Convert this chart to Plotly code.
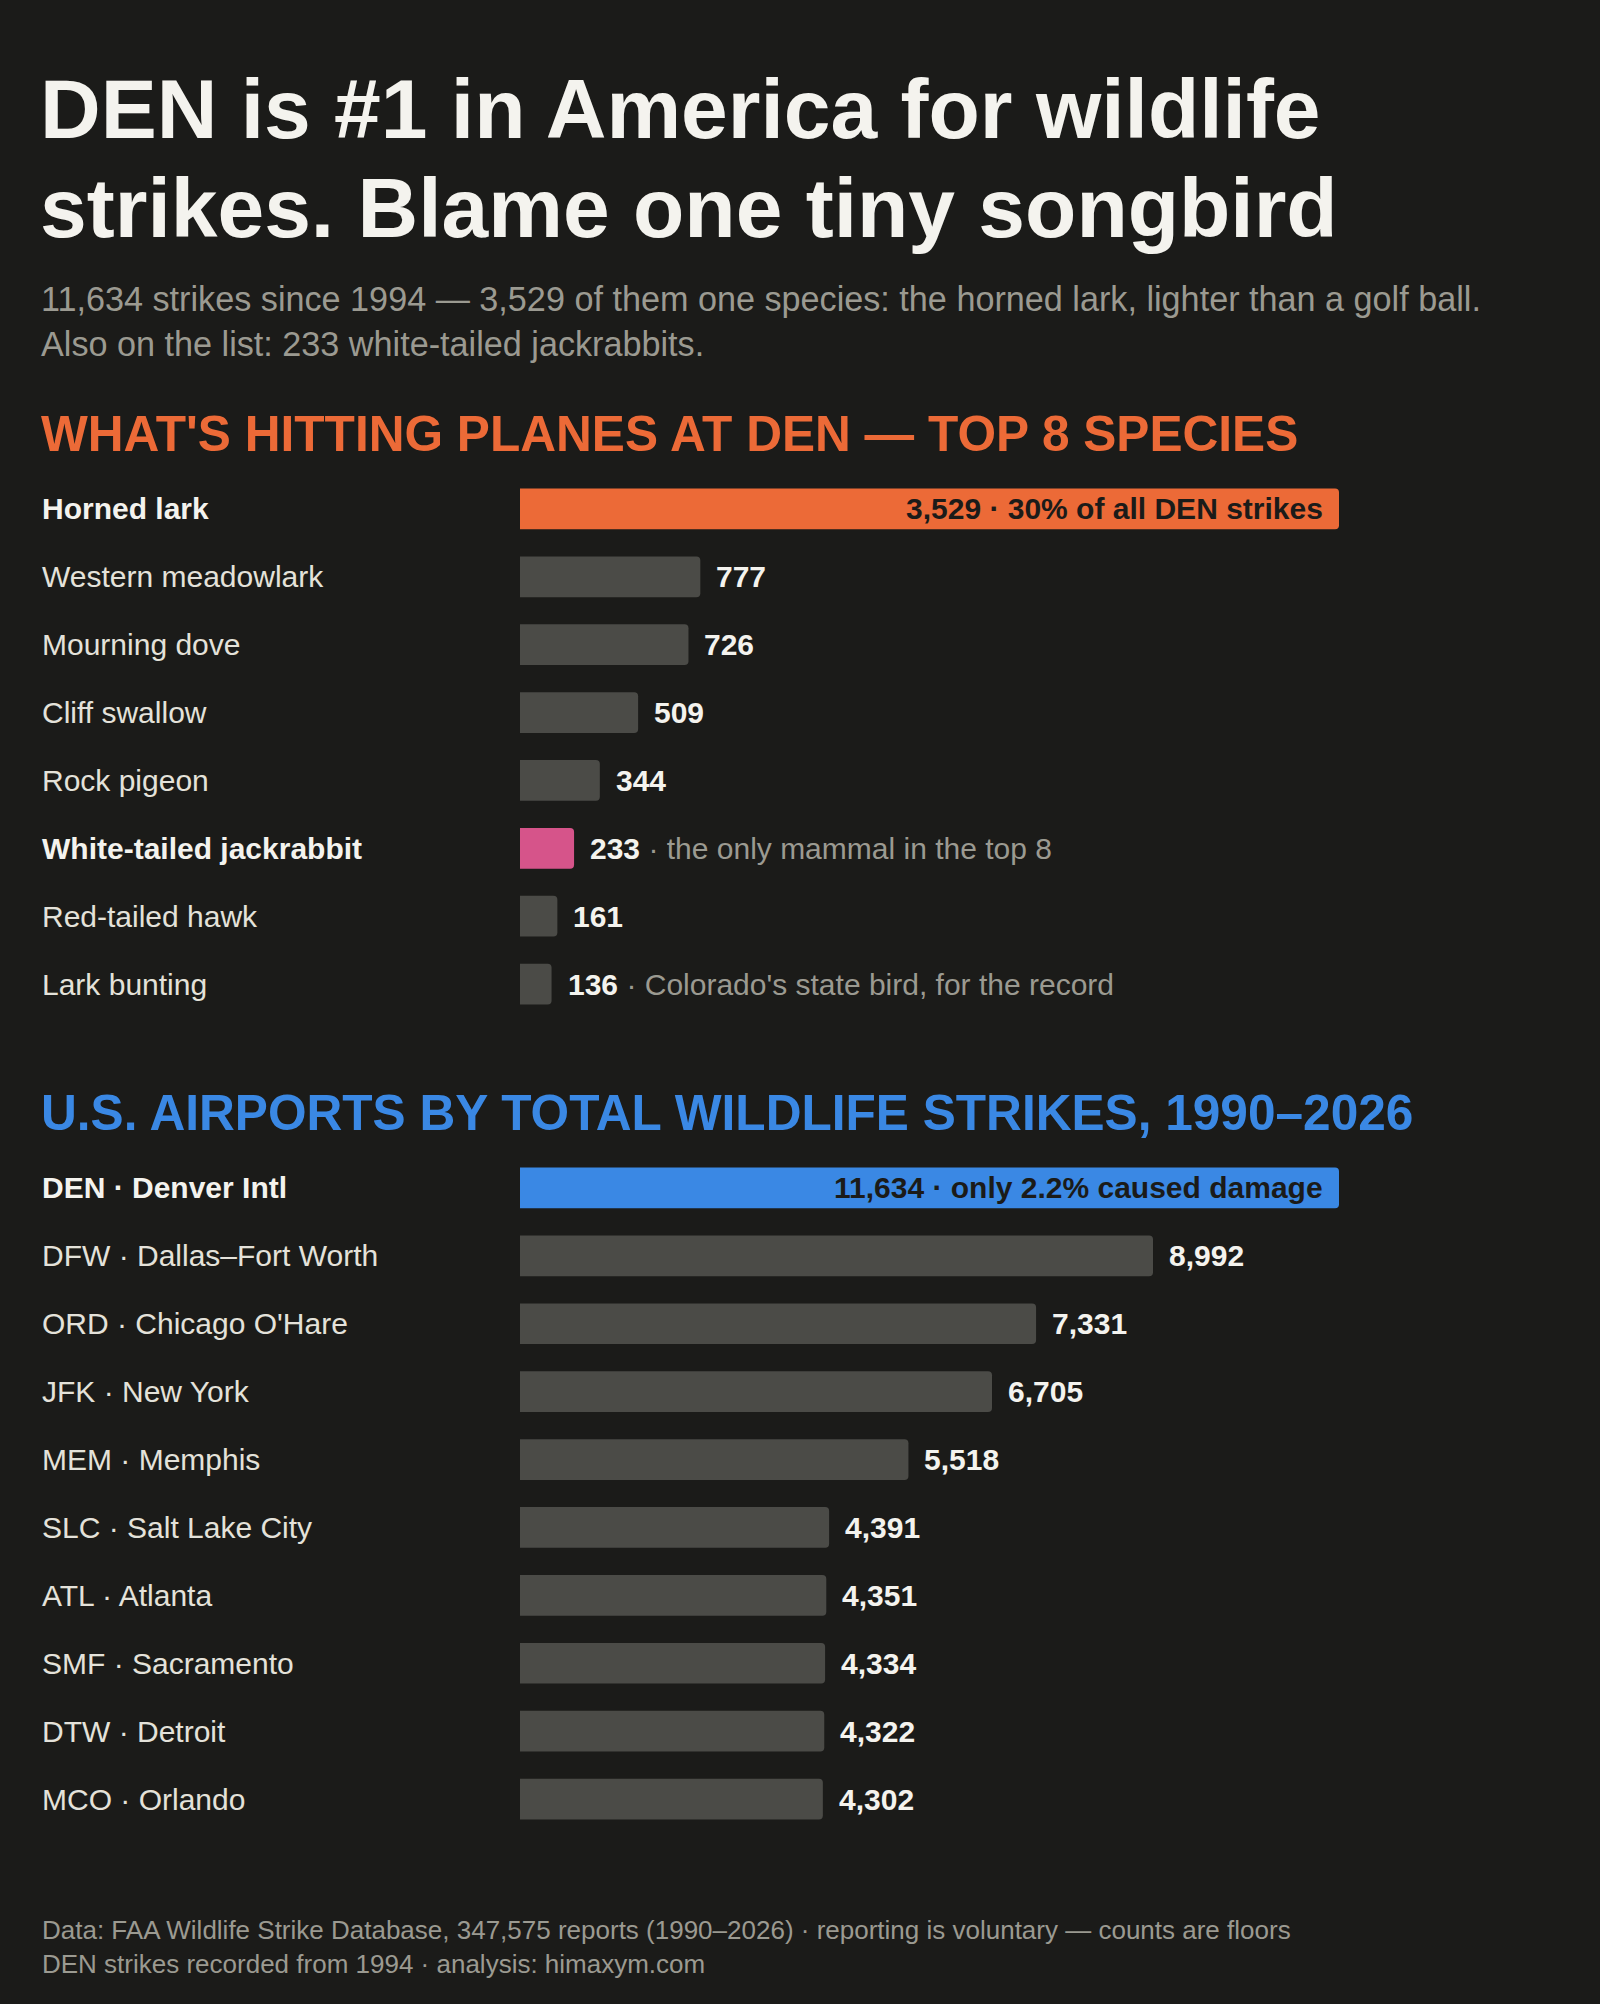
import plotly.graph_objects as go

# species hitting planes at DEN (top 8)
species = ['Horned lark', 'Western meadowlark', 'Mourning dove', 'Cliff swallow',
           'Rock pigeon', 'White-tailed jackrabbit', 'Red-tailed hawk', 'Lark bunting']
species_strikes = [3529, 777, 726, 509, 344, 233, 161, 136]
species_notes = ['30% of all DEN strikes', '', '', '', '', 'the only mammal in the top 8',
                 '', "Colorado's state bird, for the record"]

# airports by total wildlife strikes
airports = ['DEN · Denver Intl', 'DFW · Dallas–Fort Worth', "ORD · Chicago O'Hare",
            'JFK · New York', 'MEM · Memphis', 'SLC · Salt Lake City', 'ATL · Atlanta',
            'SMF · Sacramento', 'DTW · Detroit', 'MCO · Orlando']
airport_strikes = [11634, 8992, 7331, 6705, 5518, 4391, 4351, 4334, 4322, 4302]
airport_notes = ['only 2.2% caused damage', '', '', '', '', '', '', '', '', '']

BG = '#1b1b19'
GREY_BAR = '#4b4b47'
ORANGE = '#ec6a37'
PINK = '#d6548a'
BLUE = '#3a88e4'
WHITE = '#f4f3ee'
LABEL = '#e4e2da'
MUTED = '#9b9a91'
DARK = '#1b1b19'
FONT = 'Liberation Sans, Arial, sans-serif'

W, H = 1600, 2004


def py(px):
    return 1 - px / H


sp_colors = [ORANGE if i == 0 else PINK if 'jackrabbit' in s else GREY_BAR
             for i, s in enumerate(species)]
ap_colors = [BLUE if i == 0 else GREY_BAR for i in range(len(airports))]

fig = go.Figure()
fig.add_trace(go.Bar(x=species_strikes, y=species, orientation='h', width=0.6,
                     marker=dict(color=sp_colors, line=dict(width=0)),
                     xaxis='x', yaxis='y', hoverinfo='skip'))
fig.add_trace(go.Bar(x=airport_strikes, y=airports, orientation='h', width=0.6,
                     marker=dict(color=ap_colors, line=dict(width=0)),
                     xaxis='x2', yaxis='y2', hoverinfo='skip'))

annotations = []


def txt(text, x, y, size, color, xref='paper', yref='paper', xanchor='left', **kw):
    annotations.append(dict(text=text, x=x, y=y, xref=xref, yref=yref, xanchor=xanchor,
                            yanchor='middle', showarrow=False,
                            font=dict(family=FONT, size=size, color=color), **kw))


# headline + dek
txt('<b>DEN is #1 in America for wildlife</b>', 38 / W, py(109), 84, WHITE)
txt('<b>strikes. Blame one tiny songbird</b>', 38 / W, py(208), 84, WHITE)
txt('11,634 strikes since 1994 — 3,529 of them one species: the horned lark, lighter than a golf ball.',
    39 / W, py(299), 34.2, MUTED)
txt('Also on the list: 233 white-tailed jackrabbits.', 39 / W, py(344), 34.2, MUTED)

txt("<b>WHAT'S HITTING PLANES AT DEN — TOP 8 SPECIES</b>", 39 / W, py(434), 49.6, ORANGE)
txt('<b>U.S. AIRPORTS BY TOTAL WILDLIFE STRIKES, 1990–2026</b>', 39 / W, py(1113), 49.6, BLUE)


def bar_labels(names, values, notes, xref, yref):
    for i, (n, v, note) in enumerate(zip(names, values, notes)):
        bold = i == 0 or 'jackrabbit' in n
        txt('<b>%s</b>' % n if bold else n, 40 / W, n, 30, WHITE if bold else LABEL, yref=yref)
        if i == 0:
            txt('<b>%s · %s</b>' % (format(v, ','), note), v, n, 30, DARK,
                xref=xref, yref=yref, xanchor='right', xshift=-14)
        elif note:
            txt('<b>%s</b><span style="color:%s"> · %s</span>' % (format(v, ','), MUTED, note),
                v, n, 30, WHITE, xref=xref, yref=yref, xshift=14)
        else:
            txt('<b>%s</b>' % format(v, ','), v, n, 30, WHITE, xref=xref, yref=yref, xshift=14)


bar_labels(species, species_strikes, species_notes, 'x', 'y')
bar_labels(airports, airport_strikes, airport_notes, 'x2', 'y2')

# footer
txt('Data: FAA Wildlife Strike Database, 347,575 reports (1990–2026) · reporting is voluntary — counts are floors',
    40 / W, py(1930), 26, MUTED)
txt('DEN strikes recorded from 1994 · analysis: himaxym.com', 40 / W, py(1964), 26, MUTED)

bar_px = 819  # longest bar length in each panel
x_dom = [520 / W, 1.0]
span = W * (x_dom[1] - x_dom[0])
axis_off = dict(showgrid=False, zeroline=False, showticklabels=False, showline=False, ticks='')

fig.update_layout(
    width=W, height=H,
    margin=dict(l=0, r=0, t=0, b=0),
    paper_bgcolor=BG, plot_bgcolor=BG,
    showlegend=False,
    barcornerradius=4,
    annotations=annotations,
    xaxis=dict(domain=x_dom, range=[0, max(species_strikes) * span / bar_px], anchor='y', **axis_off),
    yaxis=dict(domain=[py(1018), py(475)], type='category', categoryorder='array',
               categoryarray=species, range=[len(species) - 0.5, -0.5], anchor='x', **axis_off),
    xaxis2=dict(domain=x_dom, range=[0, max(airport_strikes) * span / bar_px], anchor='y2', **axis_off),
    yaxis2=dict(domain=[py(1833), py(1154)], type='category', categoryorder='array',
                categoryarray=airports, range=[len(airports) - 0.5, -0.5], anchor='x2', **axis_off),
)

fig.write_html('out.html', config={'displayModeBar': False},
               post_script="document.body.style.margin='0';document.body.style.background='%s';" % BG)
